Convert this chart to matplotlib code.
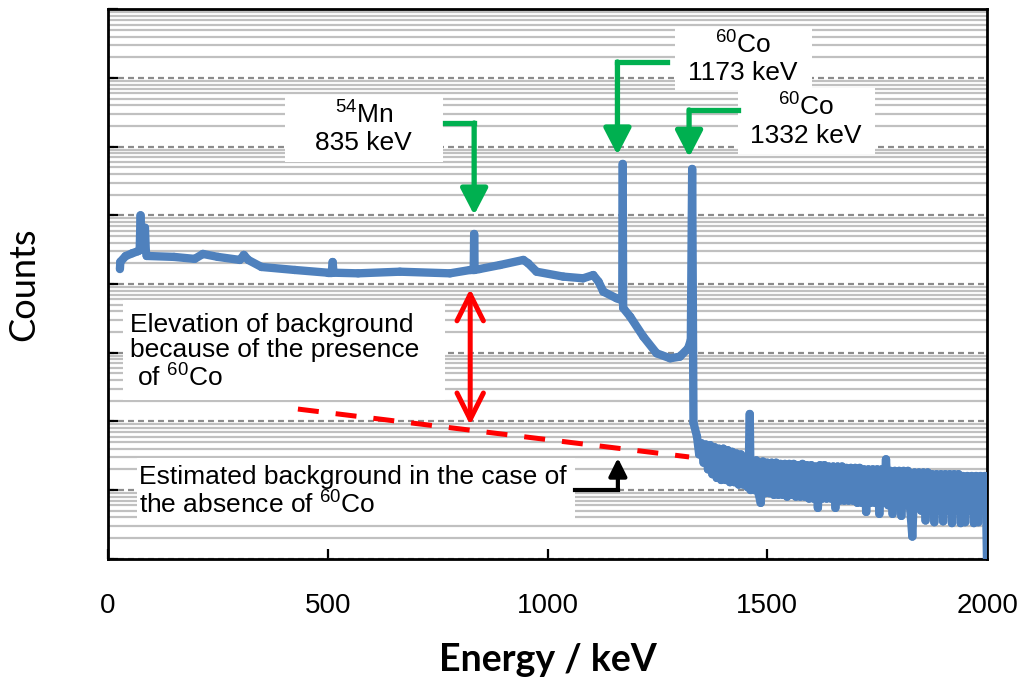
import matplotlib
matplotlib.use("Agg")
import matplotlib.pyplot as plt
from matplotlib.collections import LineCollection
from matplotlib.patches import Rectangle
from matplotlib.ticker import LogLocator, NullFormatter

plt.rcParams["font.family"] = ["Liberation Sans", "DejaVu Sans"]
plt.rcParams["mathtext.fontset"] = "custom"
plt.rcParams["mathtext.rm"] = "Liberation Sans"
plt.rcParams["path.simplify"] = False

# gamma spectrum, energy (keV) vs counts
energy = [27, 28, 40, 55, 68, 72, 74, 76, 80, 84, 86, 88, 150, 197, 216,
          250, 300, 309, 319, 349, 425, 500, 509, 511, 513, 569, 664, 778,
          824, 832, 833, 834, 845, 892, 945, 956, 975, 1036, 1081, 1104,
          1116, 1127, 1157, 1168, 1170, 1171, 1172, 1188, 1218, 1248, 1279,
          1301, 1320, 1326, 1329, 1332, 1340, 1345, 1350, 1355, 1360, 1365,
          1370, 1375]
counts = [16500, 21000, 25500, 28000, 30000, 31000, 100000, 40000, 45000,
          66000, 30000, 25600, 24800, 23200, 27400,
          24800, 22400, 26500, 22400, 17700, 16000, 14600, 14600, 20900,
          14600, 14300, 15100, 14300,
          16000, 16000, 53500, 16000, 16500, 18900, 22400, 20000, 15100,
          12800, 12100, 13500,
          10800, 7730, 6200, 5850, 5850, 560000, 4480, 3340, 1710, 980, 828,
          875, 1160, 1530, 473000, 95, 60, 33, 48, 25, 46, 20,
          45, 17]

# noisy high-energy tail
tail_energy = [1380, 1385, 1390, 1395, 1400, 1405, 1410, 1415, 1420, 1425,
               1430, 1435, 1440, 1445, 1450, 1455, 1458, 1460, 1462, 1465,
               1470, 1475, 1480, 1485, 1490, 1495, 1500, 1505, 1510, 1515,
               1520, 1525, 1530, 1535, 1540, 1545, 1550, 1555, 1560, 1565,
               1570, 1575, 1580, 1585, 1590, 1595, 1600, 1605, 1610, 1615,
               1620, 1625, 1630, 1635, 1640, 1645, 1650, 1655, 1660, 1665,
               1670, 1675, 1680, 1685, 1690, 1695, 1700, 1705, 1710, 1715,
               1720, 1725, 1730, 1735, 1740, 1745, 1750, 1755, 1760, 1765,
               1770, 1775, 1780, 1785, 1790, 1795, 1800, 1805, 1810, 1815,
               1820, 1825, 1830, 1835, 1840, 1845, 1850, 1855, 1860, 1865,
               1870, 1875, 1880, 1885, 1890, 1895, 1900, 1905, 1910, 1915,
               1920, 1925, 1930, 1935, 1940, 1945, 1950, 1955, 1960, 1965,
               1970, 1975, 1980, 1985, 1990, 1995, 1998, 2000]
tail_counts = [42, 15, 40, 14, 40, 14, 38, 13, 36, 13,
               34, 12, 33, 12, 30, 11, 26, 128, 10, 27,
               10, 27, 9, 6.5, 26, 9, 25, 9, 25, 8.5,
               25, 8.5, 24, 8.5, 24, 8, 24, 8.5, 24, 8,
               23, 8, 24, 8, 23, 7.5, 23, 7.5, 22, 5.5,
               23, 7.5, 23, 7.5, 22, 7.5, 22, 5.5, 22, 7,
               22, 7, 21, 7, 21, 7, 21, 6.5, 21, 6.5,
               20, 4.8, 20, 6.5, 20, 6.5, 20, 4.5, 20, 6.5,
               28, 6, 19, 4.5, 19, 6, 19, 4.2, 19, 6,
               19, 5.5, 2.1, 18, 5.5, 18, 5, 18, 3.6, 18,
               5, 17, 3.4, 17, 5, 17, 3.5, 17, 5, 17,
               3.3, 17, 5, 17, 3.3, 16, 3.4, 16, 5, 16,
               3.3, 16, 3.4, 16, 5, 16, 5, 0.8]

xticks = [0, 500, 1000, 1500, 2000]

# estimated background without 60Co (red dashed line)
bg_line_e = [432, 1322]
bg_line_c = [151, 30.3]

blue = "#4F81BD"
green = "#00B050"
red = "#FF0000"

fig = plt.figure(figsize=(10.25, 6.83), dpi=100)
ax = fig.add_axes([0.1054, 0.182, 0.8576, 0.8044])
ax.set_yscale("log")
ax.set_xlim(0, 2000)
ax.set_ylim(1, 1e8)

ax.yaxis.set_major_locator(LogLocator(base=10, numticks=20))
ax.yaxis.set_minor_locator(LogLocator(base=10, subs=range(2, 10), numticks=20))
ax.yaxis.set_major_formatter(NullFormatter())
ax.yaxis.set_minor_formatter(NullFormatter())
ax.set_axisbelow(True)
ax.grid(which="minor", axis="y", color="#C0C0C0", lw=1.6, ls="-")
ax.grid(which="major", axis="y", color="#8C8C8C", lw=1.6, ls=(0, (2.7, 1.8)))
ax.grid(which="major", axis="x", visible=False)

ax.set_xticks(xticks)
ax.set_xticklabels([str(t) for t in xticks])
ax.tick_params(axis="both", which="major", direction="in", length=7,
               width=1.6, labelsize=20)
ax.tick_params(axis="x", pad=25)
ax.tick_params(which="minor", length=0)
for s in ax.spines.values():
    s.set_linewidth(2.0)

# spectrum drawn segment by segment so the dense zigzag fills solid
pts = list(zip(energy + tail_energy, counts + tail_counts))
segs = [[pts[i], pts[i + 1]] for i in range(len(pts) - 1)]
ax.add_collection(LineCollection(segs, colors=blue, linewidths=6,
                                 capstyle="round", zorder=3))

# white label boxes
boxes = [((403, 5.98e5), (762, 5.66e6)),
         ((1290, 6.69e6), (1602, 5.35e7)),
         ((1433, 7.82e5), (1745, 7.14e6)),
         ((34, 205), (767, 5850)),
         ((66, 3.2), (1063, 29.3))]
for (x0, y0), (x1, y1) in boxes:
    ax.add_patch(Rectangle((x0, y0), x1 - x0, y1 - y0, facecolor="white",
                           edgecolor="none", zorder=4))

fs = 19
ax.text(582, 1.86e6, "$\\mathregular{^{54}}$Mn\n835 keV", ha="center",
        va="center", fontsize=fs, zorder=5, linespacing=1.15)
ax.text(1445, 1.95e7, "$\\mathregular{^{60}}$Co\n1173 keV", ha="center",
        va="center", fontsize=fs, zorder=5, linespacing=1.15)
ax.text(1588, 2.37e6, "$\\mathregular{^{60}}$Co\n1332 keV", ha="center",
        va="center", fontsize=fs, zorder=5, linespacing=1.15)
ax.text(50, 1016, "Elevation of background\nbecause of the presence\n"
        " of $\\mathregular{^{60}}$Co", ha="left", va="center", fontsize=fs,
        zorder=5, linespacing=1.1)
ax.text(70, 9.36, "Estimated background in the case of\n"
        "the absence of $\\mathregular{^{60}}$Co", ha="left", va="center",
        fontsize=fs, zorder=5, linespacing=1.1)


def elbow_arrow(x_start, x_corner, y_elbow, y_tip, color, lw, hl, hw):
    ax.plot([x_start, x_corner], [y_elbow, y_elbow], color=color, lw=lw,
            solid_capstyle="projecting", zorder=6)
    ax.annotate("", xy=(x_corner, y_tip), xytext=(x_corner, y_elbow),
                arrowprops=dict(arrowstyle=f"-|>,head_length={hl},head_width={hw}",
                                mutation_scale=10, lw=lw, color=color,
                                shrinkA=0, shrinkB=0), zorder=6)


elbow_arrow(767, 833, 2.21e6, 1.01e5, green, 3.8, 1.6, 0.83)
elbow_arrow(1271, 1159, 1.71e7, 7.57e5, green, 3.8, 1.6, 0.83)
elbow_arrow(1434, 1322, 3.42e6, 7.0e5, green, 3.8, 1.6, 0.83)
elbow_arrow(1063, 1160, 10, 29.3, "black", 3.0, 1.08, 0.54)

ax.annotate("", xy=(824, 8500), xytext=(824, 88.5),
            arrowprops=dict(arrowstyle="<->,head_length=1.9,head_width=0.95",
                            mutation_scale=10, lw=3.6, color=red,
                            shrinkA=0, shrinkB=0), zorder=6)
ax.plot(bg_line_e, bg_line_c, color=red, lw=3.6, dashes=(4.2, 3.4),
        dash_capstyle="butt", zorder=6)

ax.set_xlabel("Energy / keV", fontsize=27, fontweight="bold",
              family=["Lato", "DejaVu Sans"], labelpad=17)
ax.set_ylabel("Counts", fontsize=26, family=["Lato", "DejaVu Sans"],
              labelpad=45)

fig.savefig("out.png", dpi=100)
